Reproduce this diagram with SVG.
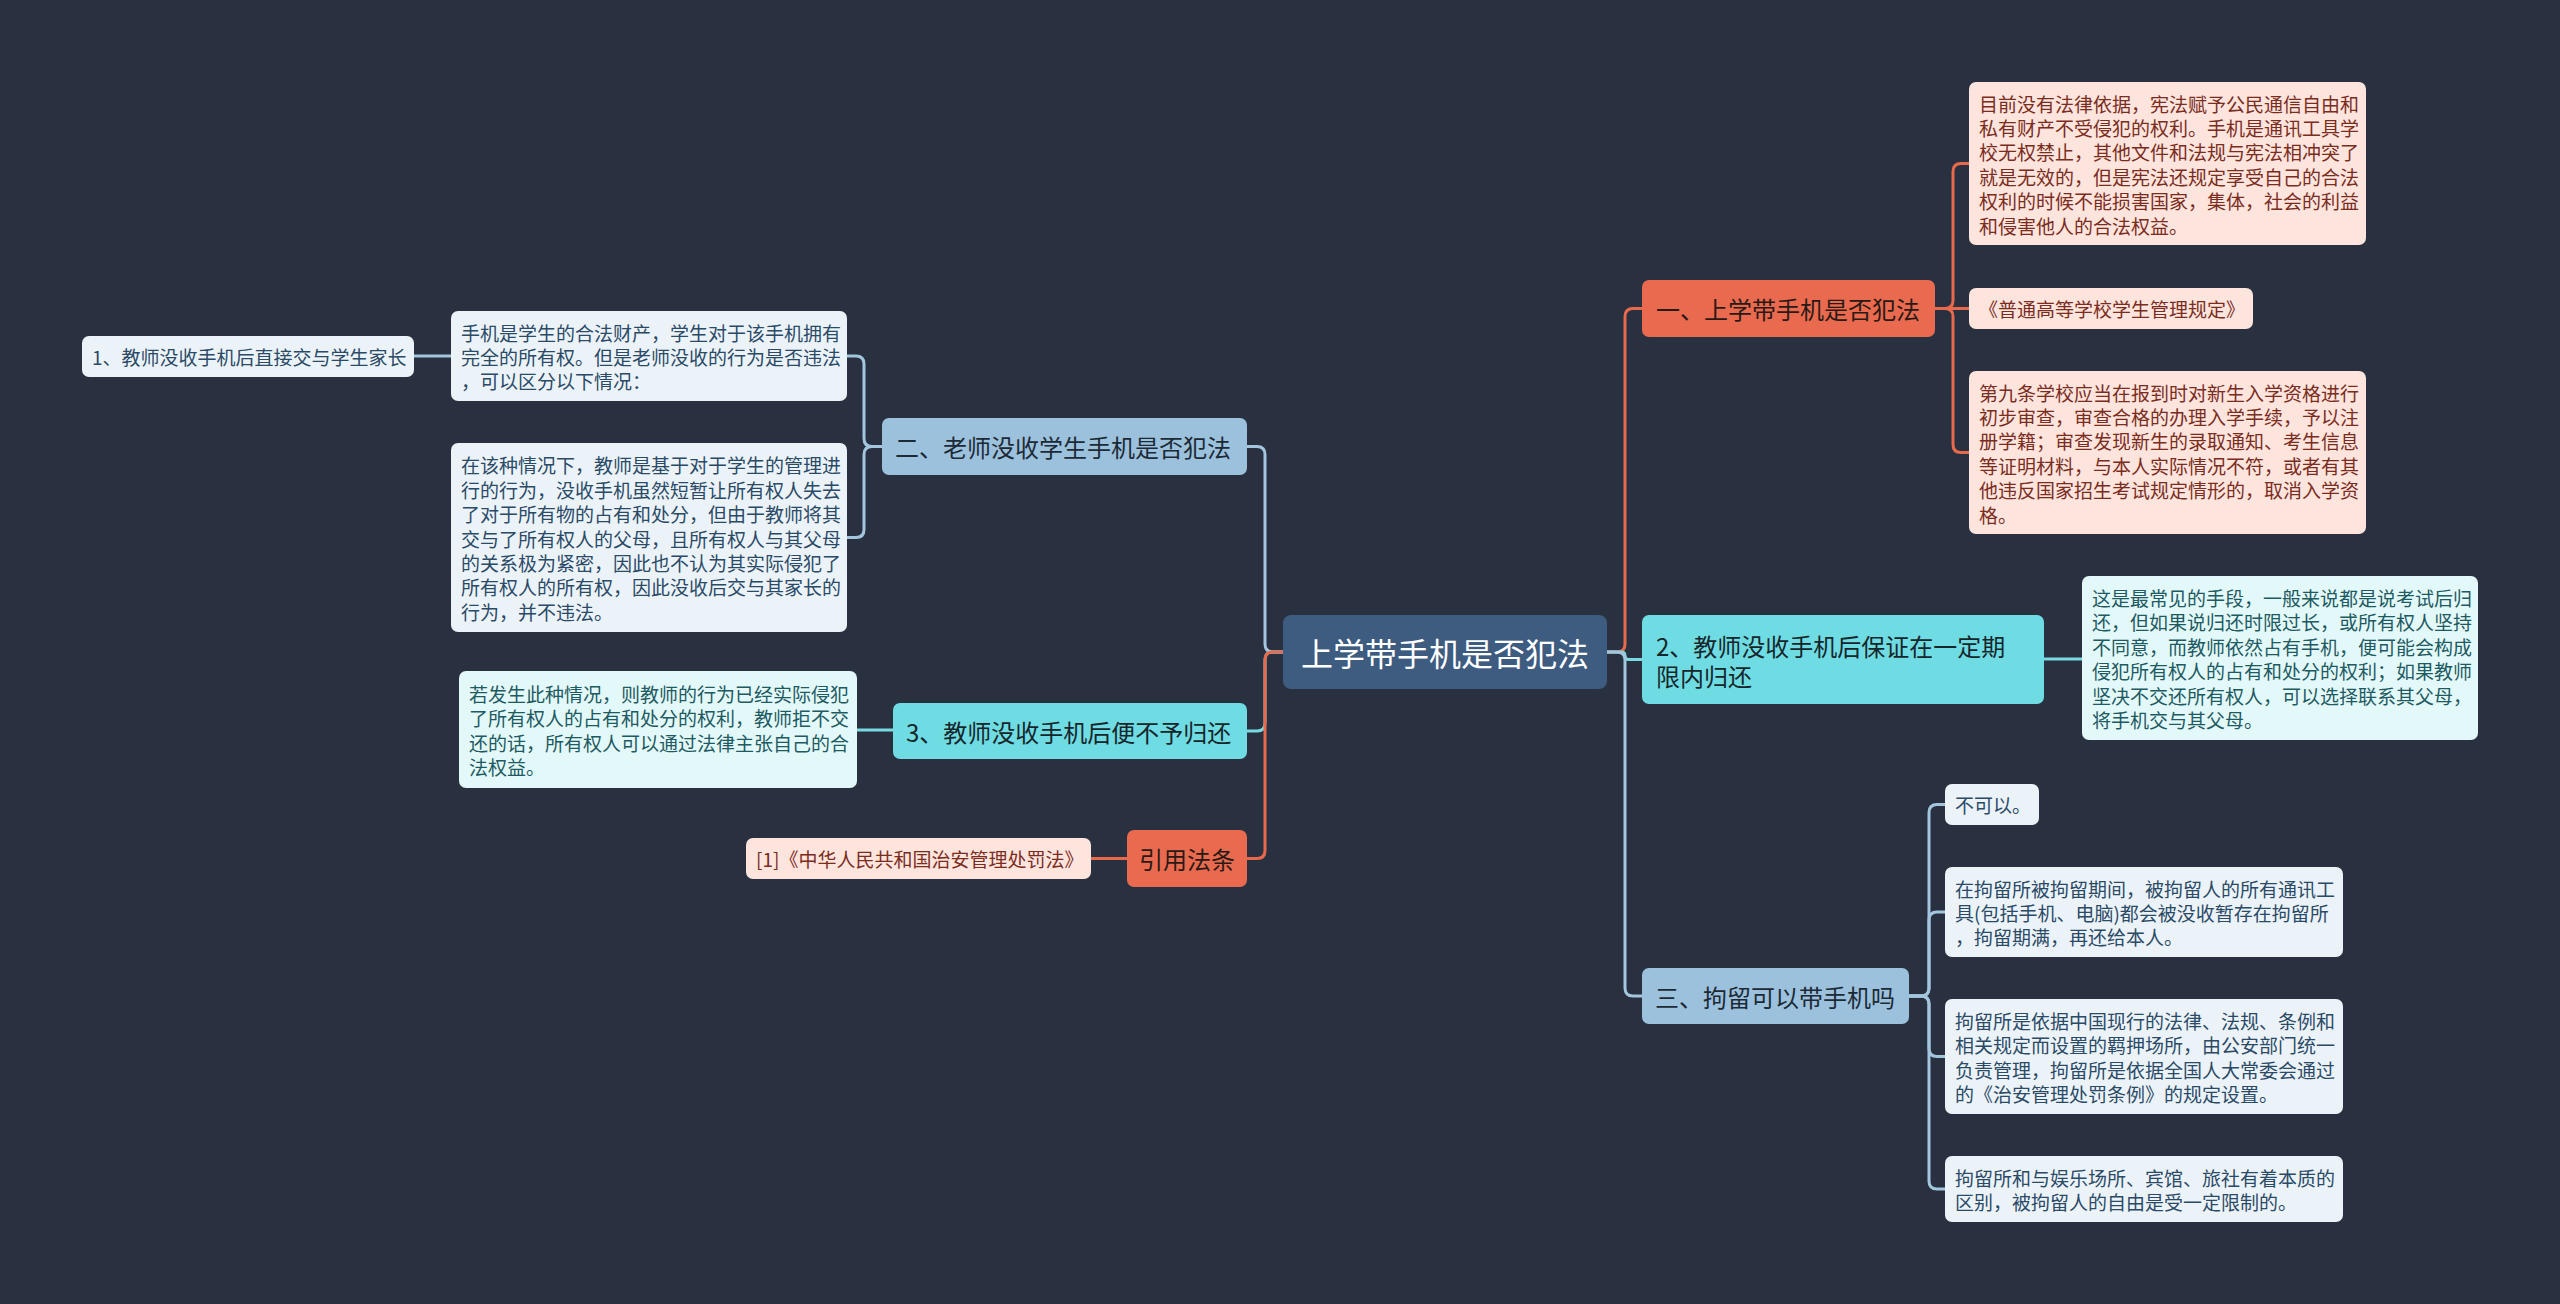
<svg xmlns="http://www.w3.org/2000/svg" width="2560" height="1304" viewBox="0 0 2560 1304">
<style>
text{font-family:"Noto Sans CJK SC","Noto Sans",sans-serif;dominant-baseline:central}
.lk{fill:none;stroke-width:3;stroke-linecap:round;stroke-linejoin:round}
.o{stroke:#e8694c}.b{stroke:#a3c5dd}.c{stroke:#78d9e1}
.root rect{fill:#3e5b80}.root text{fill:#ffffff;font-size:32px}
.no rect{fill:#e96a4e}.no text{fill:#2a1a16;font-size:24px}
.nb rect{fill:#9cc1dc}.nb text{fill:#1c2a37;font-size:24px}
.nc rect{fill:#6fdce3}.nc text{fill:#16262b;font-size:24px}
.lp rect{fill:#fde4dd}.lp text{fill:#7a2d1e;font-size:19px}
.lc rect{fill:#e3f8f9}.lc text{fill:#1d5a61;font-size:19px}
.lb rect{fill:#ebf3f9}.lb text{fill:#2b4a66;font-size:19px}
</style>
<rect width="2560" height="1304" fill="#293140"/>
<g id="connectors">
<path class="lk o" d="M1607 652 L1617 652 Q1625 652 1625 644 L1625 316.5 Q1625 308.5 1633 308.5 L1642 308.5"/>
<path class="lk c" d="M1607 652 L1621.25 652 Q1625 652 1625 655.75 Q1625 659.5 1628.75 659.5 L1642 659.5"/>
<path class="lk b" d="M1607 652 L1617 652 Q1625 652 1625 660 L1625 988 Q1625 996 1633 996 L1642 996"/>
<path class="lk b" d="M1283 652 L1273 652 Q1265 652 1265 644 L1265 454.5 Q1265 446.5 1257 446.5 L1247 446.5"/>
<path class="lk c" d="M1283 652 L1273 652 Q1265 652 1265 660 L1265 723 Q1265 731 1257 731 L1247 731"/>
<path class="lk o" d="M1283 652 L1273 652 Q1265 652 1265 660 L1265 850.5 Q1265 858.5 1257 858.5 L1247 858.5"/>
<path class="lk o" d="M1935 308.5 L1945 308.5 Q1953 308.5 1953 300.5 L1953 171.5 Q1953 163.5 1961 163.5 L1969 163.5"/>
<path class="lk o" d="M1935 308.5 L1969 308.5"/>
<path class="lk o" d="M1935 308.5 L1945 308.5 Q1953 308.5 1953 316.5 L1953 444.5 Q1953 452.5 1961 452.5 L1969 452.5"/>
<path class="lk c" d="M2044 659 L2082 659"/>
<path class="lk b" d="M1909 996 L1921 996 Q1929 996 1929 988 L1929 812.5 Q1929 804.5 1937 804.5 L1945 804.5"/>
<path class="lk b" d="M1909 996 L1921 996 Q1929 996 1929 988 L1929 920 Q1929 912 1937 912 L1945 912"/>
<path class="lk b" d="M1909 996 L1921 996 Q1929 996 1929 1004 L1929 1048.5 Q1929 1056.5 1937 1056.5 L1945 1056.5"/>
<path class="lk b" d="M1909 996 L1921 996 Q1929 996 1929 1004 L1929 1181 Q1929 1189 1937 1189 L1945 1189"/>
<path class="lk b" d="M882 446.5 L872 446.5 Q864 446.5 864 438.5 L864 364 Q864 356 856 356 L847 356"/>
<path class="lk b" d="M882 446.5 L872 446.5 Q864 446.5 864 454.5 L864 529.5 Q864 537.5 856 537.5 L847 537.5"/>
<path class="lk b" d="M451 356 L414 356"/>
<path class="lk c" d="M893 730 L857 730"/>
<path class="lk o" d="M1127 858.5 L1091 858.5"/>
</g>
<g id="root" class="root"><rect x="1283" y="615" width="324" height="74" rx="8"/><text x="1445" y="652" text-anchor="middle">上学带手机是否犯法</text></g>
<g id="n1" class="no"><rect x="1642" y="280" width="293" height="57" rx="7"/><text x="1656" y="308.5">一、上学带手机是否犯法</text></g>
<g id="n1a" class="lp"><rect x="1969" y="82" width="397" height="163" rx="7"/><text x="1979"><tspan x="1979" y="102.5">目前没有法律依据，宪法赋予公民通信自由和</tspan><tspan x="1979" y="126.9">私有财产不受侵犯的权利。手机是通讯工具学</tspan><tspan x="1979" y="151.3">校无权禁止，其他文件和法规与宪法相冲突了</tspan><tspan x="1979" y="175.7">就是无效的，但是宪法还规定享受自己的合法</tspan><tspan x="1979" y="200.1">权利的时候不能损害国家，集体，社会的利益</tspan><tspan x="1979" y="224.5">和侵害他人的合法权益。</tspan></text></g>
<g id="n1b" class="lp"><rect x="1969" y="288" width="284" height="41" rx="7"/><text x="1979" y="308.5">《普通高等学校学生管理规定》</text></g>
<g id="n1c" class="lp"><rect x="1969" y="371" width="397" height="163" rx="7"/><text x="1979"><tspan x="1979" y="391.5">第九条学校应当在报到时对新生入学资格进行</tspan><tspan x="1979" y="415.9">初步审查，审查合格的办理入学手续，予以注</tspan><tspan x="1979" y="440.3">册学籍；审查发现新生的录取通知、考生信息</tspan><tspan x="1979" y="464.7">等证明材料，与本人实际情况不符，或者有其</tspan><tspan x="1979" y="489.1">他违反国家招生考试规定情形的，取消入学资</tspan><tspan x="1979" y="513.5">格。</tspan></text></g>
<g id="n2" class="nc"><rect x="1642" y="615" width="402" height="89" rx="7"/><text x="1656"><tspan x="1656" y="645">2、教师没收手机后保证在一定期</tspan><tspan x="1656" y="675">限内归还</tspan></text></g>
<g id="n2a" class="lc"><rect x="2082" y="576" width="396" height="164" rx="7"/><text x="2092"><tspan x="2092" y="597">这是最常见的手段，一般来说都是说考试后归</tspan><tspan x="2092" y="621.4">还，但如果说归还时限过长，或所有权人坚持</tspan><tspan x="2092" y="645.8">不同意，而教师依然占有手机，便可能会构成</tspan><tspan x="2092" y="670.2">侵犯所有权人的占有和处分的权利；如果教师</tspan><tspan x="2092" y="694.6">坚决不交还所有权人，可以选择联系其父母，</tspan><tspan x="2092" y="719">将手机交与其父母。</tspan></text></g>
<g id="n3" class="nb"><rect x="1642" y="968" width="267" height="56" rx="7"/><text x="1655" y="996">三、拘留可以带手机吗</text></g>
<g id="n3a" class="lb"><rect x="1945" y="784" width="94" height="41" rx="7"/><text x="1955" y="804.5">不可以。</text></g>
<g id="n3b" class="lb"><rect x="1945" y="867" width="398" height="90" rx="7"/><text x="1955"><tspan x="1955" y="887.6">在拘留所被拘留期间，被拘留人的所有通讯工</tspan><tspan x="1955" y="912">具(包括手机、电脑)都会被没收暂存在拘留所</tspan><tspan x="1955" y="936.4">，拘留期满，再还给本人。</tspan></text></g>
<g id="n3c" class="lb"><rect x="1945" y="999" width="398" height="115" rx="7"/><text x="1955"><tspan x="1955" y="1020">拘留所是依据中国现行的法律、法规、条例和</tspan><tspan x="1955" y="1044.4">相关规定而设置的羁押场所，由公安部门统一</tspan><tspan x="1955" y="1068.8">负责管理，拘留所是依据全国人大常委会通过</tspan><tspan x="1955" y="1093.2">的《治安管理处罚条例》的规定设置。</tspan></text></g>
<g id="n3d" class="lb"><rect x="1945" y="1156" width="398" height="66" rx="7"/><text x="1955"><tspan x="1955" y="1177">拘留所和与娱乐场所、宾馆、旅社有着本质的</tspan><tspan x="1955" y="1201.4">区别，被拘留人的自由是受一定限制的。</tspan></text></g>
<g id="m1" class="nb"><rect x="882" y="418" width="365" height="57" rx="7"/><text x="895" y="446.5">二、老师没收学生手机是否犯法</text></g>
<g id="m1a" class="lb"><rect x="451" y="311" width="396" height="90" rx="7"/><text x="461"><tspan x="461" y="331.6">手机是学生的合法财产，学生对于该手机拥有</tspan><tspan x="461" y="356">完全的所有权。但是老师没收的行为是否违法</tspan><tspan x="461" y="380.4">，可以区分以下情况：</tspan></text></g>
<g id="m1a1" class="lb"><rect x="82" y="336" width="332" height="41" rx="7"/><text x="92" y="356.5">1、教师没收手机后直接交与学生家长</text></g>
<g id="m1b" class="lb"><rect x="451" y="443" width="396" height="189" rx="7"/><text x="461"><tspan x="461" y="464.3">在该种情况下，教师是基于对于学生的管理进</tspan><tspan x="461" y="488.7">行的行为，没收手机虽然短暂让所有权人失去</tspan><tspan x="461" y="513.1">了对于所有物的占有和处分，但由于教师将其</tspan><tspan x="461" y="537.5">交与了所有权人的父母，且所有权人与其父母</tspan><tspan x="461" y="561.9">的关系极为紧密，因此也不认为其实际侵犯了</tspan><tspan x="461" y="586.3">所有权人的所有权，因此没收后交与其家长的</tspan><tspan x="461" y="610.7">行为，并不违法。</tspan></text></g>
<g id="m2" class="nc"><rect x="893" y="703" width="354" height="56" rx="7"/><text x="906" y="731">3、教师没收手机后便不予归还</text></g>
<g id="m2a" class="lc"><rect x="459" y="671" width="398" height="117" rx="7"/><text x="469"><tspan x="469" y="693">若发生此种情况，则教师的行为已经实际侵犯</tspan><tspan x="469" y="717.4">了所有权人的占有和处分的权利，教师拒不交</tspan><tspan x="469" y="741.8">还的话，所有权人可以通过法律主张自己的合</tspan><tspan x="469" y="766.2">法权益。</tspan></text></g>
<g id="m3" class="no"><rect x="1127" y="830" width="120" height="57" rx="7"/><text x="1139" y="858.5">引用法条</text></g>
<g id="m3a" class="lp"><rect x="746" y="838" width="345" height="41" rx="7"/><text x="756" y="858.5">[1]《中华人民共和国治安管理处罚法》</text></g>
</svg>
